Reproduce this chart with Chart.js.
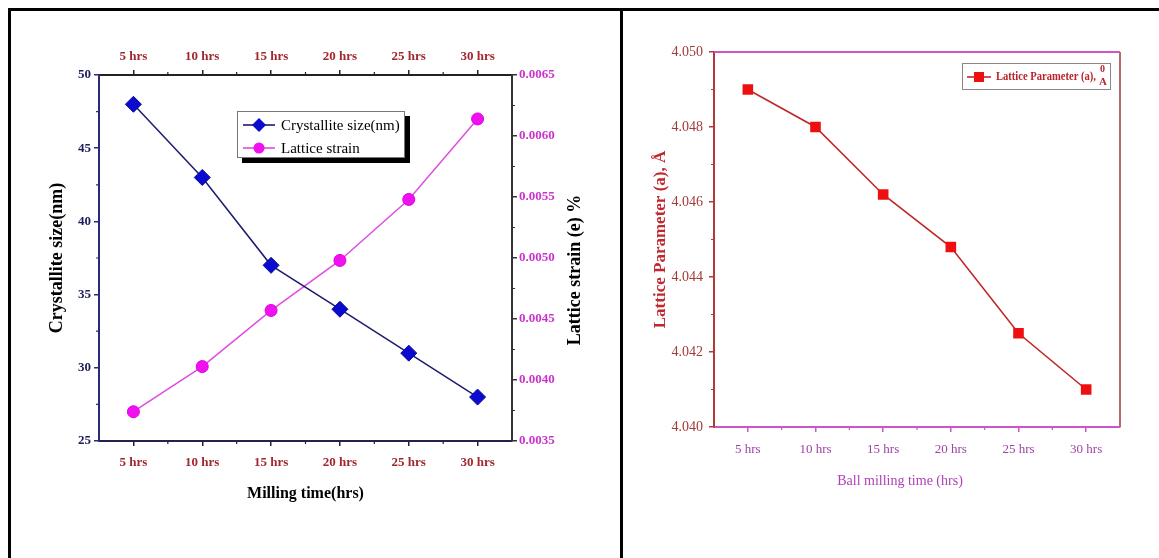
<!DOCTYPE html>
<html>
<head>
<meta charset="utf-8">
<script src="https://cdn.jsdelivr.net/npm/chart.js@4.4.0/dist/chart.umd.min.js"></script>
<style>
body{margin:0;background:#fff;width:1159px;height:558px;overflow:hidden;position:relative}
#frame{position:absolute;left:8px;top:8px;width:1300px;height:700px;border-left:3px solid #000;border-top:3px solid #000}
#divider{position:absolute;left:620px;top:8px;width:3px;height:700px;background:#000}
#c1{position:absolute;left:11px;top:11px}
#c2{position:absolute;left:623px;top:11px}
</style>
</head>
<body>
<div id="frame"></div>
<div id="divider"></div>
<canvas id="c1" width="609" height="547"></canvas>
<canvas id="c2" width="536" height="547"></canvas>
<script>
// data
const millingTimes = ["5 hrs", "10 hrs", "15 hrs", "20 hrs", "25 hrs", "30 hrs"];
const crystalliteSize = [48, 43, 37, 34, 31, 28];
const latticeStrain = [0.00374, 0.00411, 0.00457, 0.00498, 0.00548, 0.00614];
const latticeParam = [4.049, 4.048, 4.0462, 4.0448, 4.0425, 4.041];

const FONT = "'Liberation Serif', 'Times New Roman', serif";
Chart.defaults.font.family = FONT;

// short ticks half way between the labelled ones
const minorTicks = {
    id: 'minorTicks',
    afterDraw(chart, args, opts) {
        const ctx = chart.ctx;
        Object.keys(opts.scales || {}).forEach(id => {
            const s = chart.scales[id];
            const cfg = opts.scales[id];
            if (!s) return;
            const px = s.ticks.map((t, i) => s.getPixelForTick(i));
            ctx.save();
            ctx.strokeStyle = cfg.color;
            ctx.lineWidth = cfg.width || 1.2;
            ctx.beginPath();
            for (let i = 0; i < px.length - 1; i++) {
                const p = (px[i] + px[i + 1]) / 2;
                if (s.position === 'bottom') { ctx.moveTo(p, s.top); ctx.lineTo(p, s.top + cfg.len); }
                if (s.position === 'top') { ctx.moveTo(p, s.bottom); ctx.lineTo(p, s.bottom - cfg.len); }
                if (s.position === 'left') { ctx.moveTo(s.right, p); ctx.lineTo(s.right - cfg.len, p); }
                if (s.position === 'right') { ctx.moveTo(s.left, p); ctx.lineTo(s.left + cfg.len, p); }
            }
            ctx.stroke();
            ctx.restore();
        });
    }
};

// left chart: right axis title reads bottom to top + boxed legend with shadow
const leftExtras = {
    id: 'leftExtras',
    afterDraw(chart) {
        const ctx = chart.ctx;
        ctx.save();
        ctx.font = "bold 18px " + FONT;
        ctx.fillStyle = '#000';
        ctx.textAlign = 'center';
        ctx.textBaseline = 'middle';
        ctx.translate(564, 259);
        ctx.rotate(-Math.PI / 2);
        ctx.fillText("Lattice strain (e) %", 0, 0);
        ctx.restore();

        // legend
        ctx.save();
        ctx.fillStyle = '#000';
        ctx.fillRect(231, 105, 168, 47);
        ctx.fillStyle = '#fff';
        ctx.fillRect(226, 100, 168, 47);
        ctx.strokeStyle = '#777';
        ctx.lineWidth = 1;
        ctx.strokeRect(226.5, 100.5, 167, 46);
        const rows = [
            {y: 114, text: "Crystallite size(nm)", line: '#1c1c6e', fill: '#0a0ad0', shape: 'diamond'},
            {y: 137, text: "Lattice strain", line: '#e04ce0', fill: '#f010f0', shape: 'circle'}
        ];
        rows.forEach(r => {
            ctx.strokeStyle = r.line;
            ctx.lineWidth = 1.6;
            ctx.beginPath();
            ctx.moveTo(232, r.y);
            ctx.lineTo(264, r.y);
            ctx.stroke();
            ctx.fillStyle = r.fill;
            ctx.beginPath();
            if (r.shape === 'diamond') {
                ctx.moveTo(248, r.y - 7); ctx.lineTo(255, r.y); ctx.lineTo(248, r.y + 7); ctx.lineTo(241, r.y);
                ctx.closePath();
            } else {
                ctx.arc(248, r.y, 5.5, 0, Math.PI * 2);
            }
            ctx.fill();
            ctx.fillStyle = '#000';
            ctx.font = "15px " + FONT;
            ctx.textAlign = 'left';
            ctx.textBaseline = 'middle';
            ctx.fillText(r.text, 270, r.y + 1);
        });
        ctx.restore();
    }
};

new Chart(document.getElementById('c1'), {
    type: 'line',
    data: {
        labels: millingTimes,
        datasets: [
            {
                label: "Crystallite size(nm)",
                data: crystalliteSize,
                yAxisID: 'y',
                borderColor: '#1c1c6e',
                borderWidth: 1.5,
                pointStyle: 'rectRot',
                pointRadius: 8,
                pointBackgroundColor: '#0a0ad0',
                pointBorderColor: '#0a0a90',
                pointBorderWidth: 1
            },
            {
                label: "Lattice strain",
                data: latticeStrain,
                yAxisID: 'y2',
                borderColor: '#e04ce0',
                borderWidth: 1.5,
                pointStyle: 'circle',
                pointRadius: 6,
                pointBackgroundColor: '#f010f0',
                pointBorderColor: '#e000e0',
                pointBorderWidth: 1
            }
        ]
    },
    options: {
        responsive: false,
        animation: false,
        layout: {padding: 0, autoPadding: false},
        scales: {
            x: {
                position: 'bottom',
                offset: true,
                grid: {drawOnChartArea: false, tickLength: 5, color: '#222', lineWidth: 1.5},
                border: {color: '#22224a', width: 2},
                ticks: {color: '#a0282e', padding: 9, font: {size: 13, weight: 'bold'}},
                title: {display: true, text: "Milling time(hrs)", color: '#000', font: {size: 16, weight: 'bold'}, padding: {bottom: 55}},
                afterFit: s => { s.height = 117; }
            },
            x2: {
                position: 'top',
                offset: true,
                grid: {drawOnChartArea: false, tickLength: 5, color: '#222', lineWidth: 1.5},
                border: {color: '#222', width: 2},
                ticks: {color: '#a0282e', padding: 6, font: {size: 13, weight: 'bold'}},
                afterFit: s => { s.height = 64; }
            },
            y: {
                position: 'left',
                min: 25,
                max: 50,
                grid: {drawOnChartArea: false, tickLength: 5, color: '#2a2a7a', lineWidth: 1.5},
                border: {color: '#2a2a7a', width: 2},
                ticks: {stepSize: 5, color: '#1c1c5a', padding: 3, font: {size: 13, weight: 'bold'}},
                title: {display: true, text: "Crystallite size(nm)", color: '#000', font: {size: 18, weight: 'bold'}, padding: {top: 36}},
                afterFit: s => { s.width = 88; }
            },
            y2: {
                position: 'right',
                min: 0.0035,
                max: 0.0065,
                grid: {drawOnChartArea: false, tickLength: 5, color: '#333', lineWidth: 1.5},
                border: {color: '#333', width: 2},
                ticks: {
                    stepSize: 0.0005,
                    color: '#cc33cc',
                    padding: 2,
                    font: {size: 13, weight: 'bold'},
                    callback: v => v.toFixed(4)
                },
                afterFit: s => { s.width = 108; }
            }
        },
        plugins: {
            legend: {display: false},
            tooltip: {enabled: false},
            minorTicks: {
                scales: {
                    x: {len: 3, color: '#222'},
                    x2: {len: 3, color: '#222'},
                    y: {len: 3, color: '#2a2a7a'},
                    y2: {len: 3, color: '#333'}
                }
            }
        }
    },
    plugins: [minorTicks, leftExtras]
});

// right chart: top/right frame lines, legend, x title
const rightExtras = {
    id: 'rightExtras',
    afterDraw(chart) {
        const ctx = chart.ctx;
        const a = chart.chartArea;
        ctx.save();
        ctx.lineWidth = 2;
        ctx.strokeStyle = '#cc55cc';
        ctx.beginPath();
        ctx.moveTo(a.left, a.top);
        ctx.lineTo(a.right, a.top);
        ctx.stroke();
        ctx.strokeStyle = '#b86a6a';
        ctx.beginPath();
        ctx.moveTo(a.right, a.top);
        ctx.lineTo(a.right, a.bottom);
        ctx.stroke();

        ctx.fillStyle = '#b040b8';
        ctx.font = "14px " + FONT;
        ctx.textAlign = 'center';
        ctx.textBaseline = 'middle';
        ctx.fillText("Ball milling time (hrs)", 277, 470);

        // legend
        ctx.fillStyle = '#fff';
        ctx.fillRect(339, 52, 149, 27);
        ctx.strokeStyle = '#888';
        ctx.lineWidth = 1;
        ctx.strokeRect(339.5, 52.5, 148, 26);
        ctx.strokeStyle = '#c02828';
        ctx.lineWidth = 1.6;
        ctx.beginPath();
        ctx.moveTo(344, 66);
        ctx.lineTo(368, 66);
        ctx.stroke();
        ctx.fillStyle = '#ee1010';
        ctx.fillRect(351, 61, 10, 10);
        ctx.fillStyle = '#b8242a';
        ctx.font = "bold 12px " + FONT;
        ctx.textAlign = 'left';
        ctx.fillText("Lattice Parameter (a),", 373, 66, 100);
        ctx.font = "bold 10px " + FONT;
        ctx.fillText("0", 477, 58);
        ctx.font = "bold 11px " + FONT;
        ctx.fillText("A", 476, 71);
        ctx.restore();
    }
};

new Chart(document.getElementById('c2'), {
    type: 'line',
    data: {
        labels: millingTimes,
        datasets: [{
            label: "Lattice Parameter (a), Å",
            data: latticeParam,
            borderColor: '#c02828',
            borderWidth: 1.6,
            pointStyle: 'rect',
            pointRadius: 7.5,
            pointBackgroundColor: '#ee1010',
            pointBorderColor: '#ee1010',
            pointBorderWidth: 0
        }]
    },
    options: {
        responsive: false,
        animation: false,
        layout: {padding: {top: 41, right: 39, left: 0, bottom: 0}, autoPadding: false},
        scales: {
            x: {
                position: 'bottom',
                offset: true,
                grid: {drawOnChartArea: false, tickLength: 5, color: '#cc55cc', lineWidth: 1.5},
                border: {color: '#cc55cc', width: 2},
                ticks: {color: '#a040a8', padding: 10, font: {size: 13}},
                afterFit: s => { s.height = 131; }
            },
            y: {
                position: 'left',
                min: 4.040,
                max: 4.050,
                grid: {drawOnChartArea: false, tickLength: 5, color: '#b03a3a', lineWidth: 1.5},
                border: {color: '#b03a3a', width: 2},
                ticks: {
                    stepSize: 0.002,
                    color: '#a33a3a',
                    padding: 6,
                    font: {size: 14},
                    callback: v => v.toFixed(3)
                },
                title: {display: true, text: "Lattice Parameter (a), Å", color: '#c0282e', font: {size: 17, weight: 'bold'}, padding: {top: 27}},
                afterFit: s => { s.width = 91; }
            }
        },
        plugins: {
            legend: {display: false},
            tooltip: {enabled: false},
            minorTicks: {
                scales: {
                    x: {len: 3, color: '#cc55cc'},
                    y: {len: 3, color: '#b03a3a'}
                }
            }
        }
    },
    plugins: [minorTicks, rightExtras]
});
</script>
</body>
</html>
